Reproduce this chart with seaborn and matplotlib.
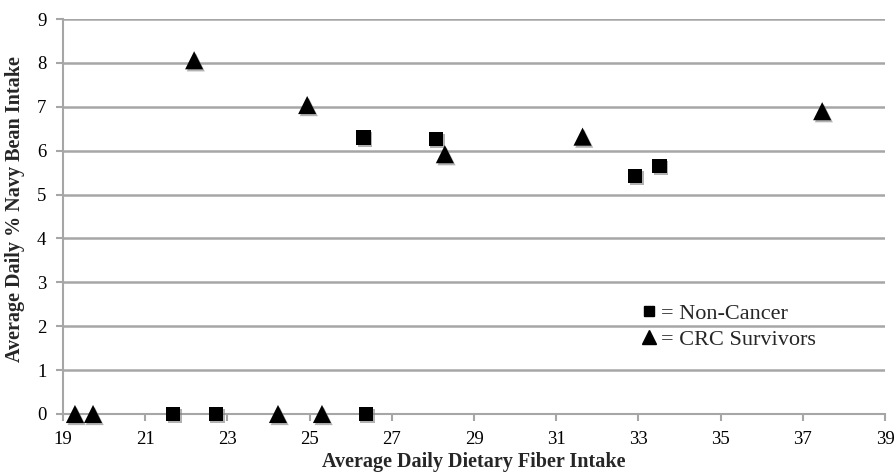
import matplotlib
matplotlib.use("Agg")
import matplotlib.pyplot as plt
import matplotlib.patheffects as pe
from matplotlib.lines import Line2D
import seaborn as sns
import pandas as pd

# Data
noncancer_x = [21.68, 22.72, 26.37, 26.31, 28.07, 32.92, 33.51]
noncancer_y = [0.0, 0.0, 0.0, 6.30, 6.26, 5.43, 5.65]
crc_x = [19.29, 19.73, 22.19, 24.94, 24.23, 25.30, 28.29, 31.64, 37.47]
crc_y = [0.0, 0.0, 8.06, 7.04, 0.0, 0.0, 5.92, 6.32, 6.90]
x_ticks = list(range(19, 40, 2))
y_ticks = list(range(0, 10))
groups = ["Non-Cancer", "CRC Survivors"]

df = pd.DataFrame({
    "x": noncancer_x + crc_x,
    "y": noncancer_y + crc_y,
    "group": [groups[0]] * len(noncancer_x) + [groups[1]] * len(crc_x),
})

sns.set_theme(style="white")
plt.rcParams["font.family"] = ["Liberation Serif", "DejaVu Serif"]

fig = plt.figure(figsize=(8.94, 4.72), dpi=100)
ax = fig.add_axes([0.0705, 0.1229, 0.9195, 0.8368])

shadow = [pe.SimplePatchShadow(offset=(1.2, -1.5), shadow_rgbFace="#808080", alpha=0.6), pe.Normal()]

for g, m, s in [(groups[0], "s", 105), (groups[1], "^", 170)]:
    sub = df[df["group"] == g]
    sns.scatterplot(data=sub, x="x", y="y", marker=m, s=s, color="black",
                    edgecolor="black", linewidth=0, ax=ax, zorder=3, clip_on=False)
for coll in ax.collections:
    coll.set_path_effects(shadow)

ax.set_xlim(19, 39)
ax.set_ylim(0, 9)
ax.set_xticks(x_ticks)
ax.set_yticks(y_ticks)
ax.set_xticklabels([str(t) for t in x_ticks])
ax.set_yticklabels([str(t) for t in y_ticks])

ax.yaxis.grid(True, color="#a6a6a6", linewidth=1.8)
ax.xaxis.grid(False)
ax.set_axisbelow(True)

for side in ["top", "right"]:
    ax.spines[side].set_visible(False)
for side in ["left", "bottom"]:
    ax.spines[side].set_color("#a6a6a6")
    ax.spines[side].set_linewidth(1.5)

ax.tick_params(axis="both", which="major", labelsize=13.5, colors="#a6a6a6",
               labelcolor="black", length=5, width=1.5, direction="out",
               left=True, bottom=True)
ax.tick_params(axis="x", pad=7)
ax.tick_params(axis="y", pad=7)

ax.set_xlabel("Average Daily Dietary Fiber Intake", fontsize=14.5, fontweight="bold")
ax.set_ylabel("Average Daily % Navy Bean Intake", fontsize=14.5, fontweight="bold")
ax.xaxis.set_label_coords(0.5, -0.097)
ax.yaxis.set_label_coords(-0.046, 0.519)

handles = [Line2D([], [], marker="s", color="black", linestyle="none", markersize=7),
           Line2D([], [], marker="^", color="black", linestyle="none", markersize=10)]
ax.legend(handles, ["= " + g for g in groups], loc="upper left",
          bbox_to_anchor=(0.687, 0.303), frameon=False, fontsize=16,
          handletextpad=0.0, handlelength=1.1, labelspacing=0.25, borderaxespad=0)

fig.savefig("out.png", dpi=100)
